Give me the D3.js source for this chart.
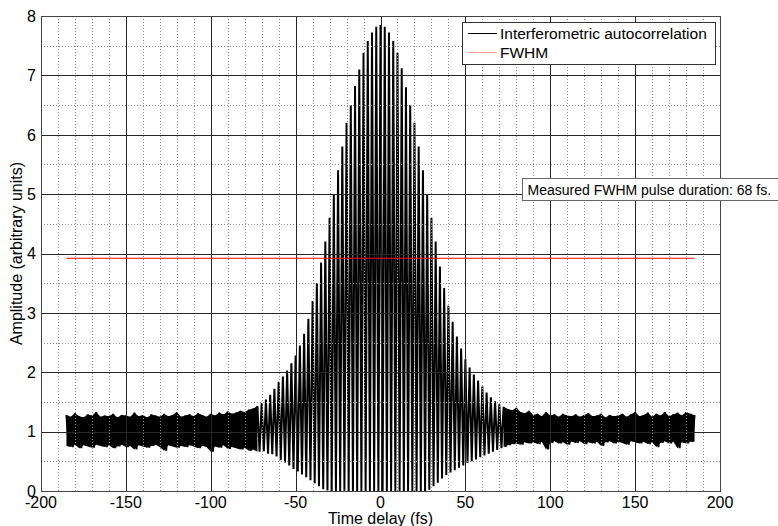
<!DOCTYPE html>
<html>
<head>
<meta charset="utf-8">
<script src="https://cdn.jsdelivr.net/npm/d3@7/dist/d3.min.js"></script>
<style>
  body { margin: 0; background: #fff; }
  svg { font-family: "Liberation Sans", Arial, sans-serif; display: block; }
</style>
</head>
<body>
<svg id="chart"></svg>
<script>
// fringe maxima, one every 2.5 fs starting at -185 fs
const fringeStart = -185
const fringeStep = 2.5
const fringeTop = [
    1.28, 1.25, 1.31, 1.26, 1.24, 1.29, 1.27, 1.33, 1.25, 1.27,
    1.26, 1.30, 1.24, 1.28, 1.27, 1.25, 1.32, 1.26, 1.28, 1.24,
    1.29, 1.27, 1.25, 1.30, 1.26, 1.28, 1.33, 1.25, 1.27, 1.29,
    1.26, 1.31, 1.28, 1.25, 1.30, 1.27, 1.32, 1.29, 1.34, 1.30,
    1.32, 1.35, 1.33, 1.37, 1.39, 1.43, 1.48, 1.54, 1.62, 1.72,
    1.84, 1.93, 2.03, 2.15, 2.28, 2.45, 2.65, 2.90, 3.20, 3.50,
    3.85, 4.20, 4.60, 5.00, 5.40, 5.80, 6.20, 6.50, 6.82, 7.10,
    7.38, 7.58, 7.72, 7.82, 7.85, 7.82, 7.72, 7.58, 7.38, 7.12,
    6.80, 6.50, 6.20, 5.80, 5.40, 5.00, 4.60, 4.20, 3.78, 3.42,
    3.12, 2.85, 2.60, 2.40, 2.22, 2.08, 1.96, 1.86, 1.76, 1.66,
    1.58, 1.51, 1.46, 1.42, 1.38, 1.36, 1.40, 1.33, 1.31, 1.35,
    1.28, 1.30, 1.26, 1.33, 1.27, 1.29, 1.25, 1.30, 1.27, 1.26,
    1.29, 1.25, 1.28, 1.31, 1.26, 1.27, 1.30, 1.24, 1.28, 1.26,
    1.27, 1.30, 1.25, 1.29, 1.33, 1.26, 1.28, 1.32, 1.25, 1.30,
    1.27, 1.33, 1.26, 1.29, 1.32, 1.27, 1.33, 1.30, 1.28
]
// fringe minima, halfway between the maxima
const fringeBottom = [
    0.76, 0.74, 0.78, 0.72, 0.77, 0.75, 0.73, 0.78, 0.76, 0.74,
    0.77, 0.72, 0.75, 0.78, 0.74, 0.76, 0.70, 0.77, 0.75, 0.73,
    0.76, 0.78, 0.74, 0.68, 0.77, 0.75, 0.73, 0.76, 0.74, 0.77,
    0.75, 0.72, 0.76, 0.74, 0.66, 0.75, 0.73, 0.77, 0.71, 0.74,
    0.72, 0.70, 0.73, 0.68, 0.70, 0.66, 0.67, 0.63, 0.62, 0.58,
    0.52, 0.48, 0.43, 0.37, 0.33, 0.28, 0.23, 0.18, 0.13, 0.08,
    0.03, 0.01, 0.00, 0.00, 0.00, 0.00, 0.00, 0.00, 0.00, 0.00,
    0.00, 0.00, 0.00, 0.00, 0.00, 0.00, 0.00, 0.00, 0.00, 0.00,
    0.00, 0.00, 0.00, 0.00, 0.00, 0.02, 0.08, 0.14, 0.21, 0.27,
    0.31, 0.35, 0.39, 0.43, 0.47, 0.50, 0.53, 0.57, 0.60, 0.63,
    0.66, 0.69, 0.72, 0.74, 0.77, 0.79, 0.80, 0.78, 0.82, 0.80,
    0.82, 0.79, 0.83, 0.70, 0.81, 0.84, 0.80, 0.82, 0.78, 0.83,
    0.81, 0.84, 0.79, 0.82, 0.80, 0.83, 0.76, 0.82, 0.84, 0.80,
    0.83, 0.81, 0.78, 0.84, 0.82, 0.80, 0.83, 0.79, 0.82, 0.74,
    0.81, 0.84, 0.80, 0.83, 0.72, 0.82, 0.80, 0.83
]
const fwhmLevel = 3.92
const fwhmRange = [-185, 185]
// beyond this delay the fringes are drowned in noise and read as a solid band
const noiseFloorStart = 72

const xTicks = [-200, -150, -100, -50, 0, 50, 100, 150, 200]
const yTicks = [0, 1, 2, 3, 4, 5, 6, 7, 8]
const legendLabels = ['Interferometric autocorrelation', 'FWHM']
const annotationText = 'Measured FWHM pulse duration: 68 fs.'

const width = 778
const height = 526
const margin = {top: 16, right: 58, bottom: 35, left: 41}

const svg = d3.select('#chart')
    .attr('width', width)
    .attr('height', height)

const plotW = width - margin.left - margin.right
const plotH = height - margin.top - margin.bottom

const xScale = d3.scaleLinear().domain([-200, 200]).range([0, plotW])
const yScale = d3.scaleLinear().domain([0, 8]).range([plotH, 0])

const g = svg.append('g')
    .attr('transform', `translate(${margin.left}, ${margin.top})`)

// build the trace: maxima and minima alternate
const trace = []
const band = []
fringeTop.forEach((v, i) => {
    const t = fringeStart + i * fringeStep
    const lo = fringeBottom[Math.min(i, fringeBottom.length - 1)]
    trace.push([t, v])
    band.push({t: t, hi: v, lo: lo})
    if (i < fringeBottom.length) trace.push([t + fringeStep / 2, fringeBottom[i]])
})

// noisy wings: dense band between the fringe extremes
const area = d3.area()
    .defined(d => Math.abs(d.t) >= noiseFloorStart)
    .x(d => xScale(d.t))
    .y0(d => yScale(d.lo))
    .y1(d => yScale(d.hi))

g.append('path')
    .datum(band)
    .attr('fill', '#000')
    .attr('d', area)

const line = d3.line()
    .x(d => xScale(d[0]))
    .y(d => yScale(d[1]))

g.append('path')
    .datum(trace)
    .attr('fill', 'none')
    .attr('stroke', '#000')
    .attr('stroke-width', 2)
    .attr('d', line)

// grid on top of the data, like the original
const snap = v => Math.round(v) + 0.5
const xMinor = d3.range(-190, 200, 10).filter(v => v % 50 !== 0)
const yMinor = d3.range(0.5, 8, 1)

const grid = g.append('g')
grid.selectAll('.xminor').data(xMinor).join('line')
    .attr('x1', d => snap(xScale(d))).attr('x2', d => snap(xScale(d)))
    .attr('y1', 0).attr('y2', plotH)
    .attr('stroke', '#8c8c8c').attr('stroke-dasharray', '1,2')
grid.selectAll('.yminor').data(yMinor).join('line')
    .attr('y1', d => snap(yScale(d))).attr('y2', d => snap(yScale(d)))
    .attr('x1', 0).attr('x2', plotW)
    .attr('stroke', '#8c8c8c').attr('stroke-dasharray', '1,2')
grid.selectAll('.xmajor').data(xTicks.slice(1, -1)).join('line')
    .attr('x1', d => snap(xScale(d))).attr('x2', d => snap(xScale(d)))
    .attr('y1', 0).attr('y2', plotH)
    .attr('stroke', '#262626')
grid.selectAll('.ymajor').data(yTicks.slice(1, -1)).join('line')
    .attr('y1', d => snap(yScale(d))).attr('y2', d => snap(yScale(d)))
    .attr('x1', 0).attr('x2', plotW)
    .attr('stroke', '#262626')

// FWHM level
g.append('line')
    .attr('x1', xScale(fwhmRange[0])).attr('x2', xScale(fwhmRange[1]))
    .attr('y1', yScale(fwhmLevel)).attr('y2', yScale(fwhmLevel))
    .attr('stroke', '#ff0000')

// axes box
g.append('rect')
    .attr('x', 0.5).attr('y', 0.5)
    .attr('width', plotW).attr('height', plotH)
    .attr('fill', 'none').attr('stroke', '#444')

// tick labels
g.selectAll('.xlab').data(xTicks).join('text')
    .attr('x', d => xScale(d))
    .attr('y', plotH + 17)
    .attr('text-anchor', 'middle')
    .attr('font-size', 16)
    .text(d => d)
g.selectAll('.ylab').data(yTicks).join('text')
    .attr('x', -5)
    .attr('y', d => yScale(d))
    .attr('dy', '0.36em')
    .attr('text-anchor', 'end')
    .attr('font-size', 16)
    .text(d => d)

// axis titles
svg.append('text')
    .attr('x', margin.left + plotW / 2)
    .attr('y', 524)
    .attr('text-anchor', 'middle')
    .attr('font-size', 16)
    .text('Time delay (fs)')
svg.append('text')
    .attr('transform', `translate(22, ${margin.top + plotH / 2}) rotate(-90)`)
    .attr('text-anchor', 'middle')
    .attr('font-size', 16)
    .text('Amplitude (arbitrary units)')

// legend
const legend = svg.append('g').attr('transform', 'translate(462.5, 22.5)')
legend.append('rect')
    .attr('width', 253).attr('height', 42)
    .attr('fill', '#fff').attr('stroke', '#333')
const legendColors = ['#000', '#ff9999']
legendLabels.forEach((label, i) => {
    const yy = 11 + i * 19
    legend.append('line')
        .attr('x1', 5.5).attr('x2', 34.5)
        .attr('y1', yy).attr('y2', yy)
        .attr('stroke', legendColors[i])
    legend.append('text')
        .attr('x', 37.5).attr('y', yy + 5.5)
        .attr('font-size', 15.5)
        .text(label)
})

// annotation box
const note = svg.append('g').attr('transform', 'translate(522.5, 178.5)')
note.append('rect')
    .attr('width', 270).attr('height', 22)
    .attr('fill', '#fff').attr('stroke', '#666')
note.append('text')
    .attr('x', 5).attr('y', 16)
    .attr('font-size', 14)
    .text(annotationText)
</script>
</body>
</html>
